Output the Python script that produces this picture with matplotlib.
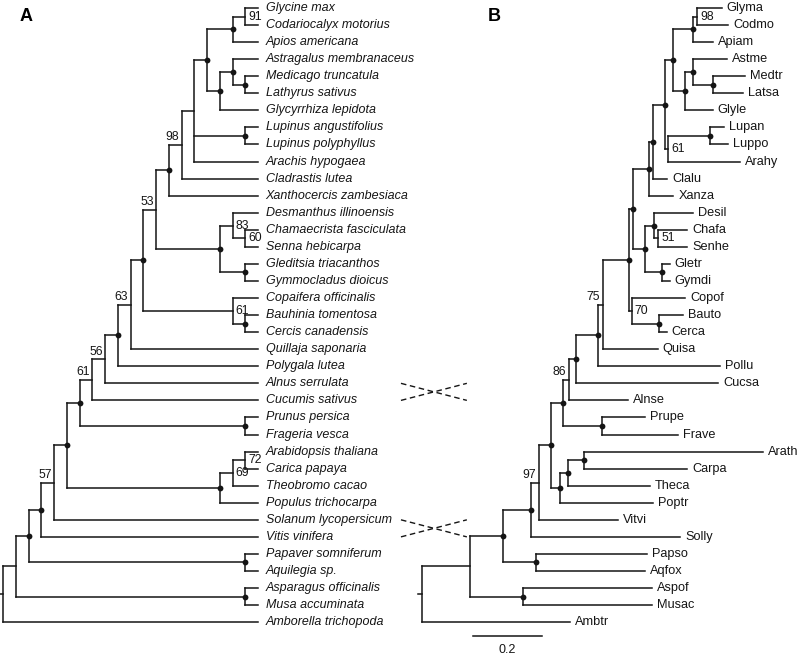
import matplotlib
matplotlib.use("Agg")
import matplotlib.pyplot as plt
from matplotlib.collections import LineCollection

###############################################################################
# data: panel A is a cladogram (topology + bootstrap), panel B a phylogram
# (branch lengths in substitutions/site + bootstrap). "100" = full support (dot)

TREE_A = (
    "(((((((((((((((((((Glycine_max,Codariocalyx_motorius)91,Apios_americana)100,"
    "((Astragalus_membranaceus,(Medicago_truncatula,Lathyrus_sativus)100)100,Glycyrrhiza_lepidota)100)100,"
    "(Lupinus_angustifolius,Lupinus_polyphyllus)100,Arachis_hypogaea),Cladrastis_lutea)98,"
    "Xanthocercis_zambesiaca)100,"
    "((Desmanthus_illinoensis,(Chamaecrista_fasciculata,Senna_hebicarpa)60)83,"
    "(Gleditsia_triacanthos,Gymmocladus_dioicus)100)100)53,"
    "(Copaifera_officinalis,(Bauhinia_tomentosa,Cercis_canadensis)100)61)100,"
    "Quillaja_saponaria)63,Polygala_lutea)100,Alnus_serrulata)56,Cucumis_sativus)61,"
    "(Prunus_persica,Frageria_vesca)100)100,"
    "(((Arabidopsis_thaliana,Carica_papaya)72,Theobromo_cacao)69,Populus_trichocarpa)100)100,"
    "Solanum_lycopersicum)57,Vitis_vinifera)100,"
    "(Papaver_somniferum,Aquilegia_sp.)100)100,"
    "(Asparagus_officinalis,Musa_accuminata)100),"
    "Amborella_trichopoda);"
)

TREE_B = (
    "(((((((((((((((((((Glyma:0.072,Codmo:0.090)98:0.012,Apiam:0.058)100:0.058,"
    "((Astme:0.099,(Medtr:0.093,Latsa:0.087)100:0.058)100:0.023,Glyle:0.081)100:0.035)100:0.023,"
    "((Lupan:0.041,Luppo:0.052)100:0.122,Arahy:0.209)61:0.009)100:0.035,"
    "Clalu:0.041)100:0.012,Xanza:0.072)100:0.046,"
    "((Desil:0.113,(Chafa:0.084,Senhe:0.084)51:0.012)100:0.026,"
    "(Gletr:0.023,Gymdi:0.023)100:0.049)100:0.035)100:0.012,"
    "(Copof:0.154,(Bauto:0.070,Cerca:0.023)100:0.078)70:0.009)100:0.075,"
    "Quisa:0.159)75:0.014,Pollu:0.354)100:0.064,Cucsa:0.412)100:0.020,Alnse:0.171)86:0.017,"
    "(Prupe:0.125,Frave:0.220)100:0.113)100:0.035,"
    "(((Arath:0.519,Carpa:0.299)100:0.046,Theca:0.238)100:0.023,Poptr:0.270)100:0.026)100:0.035,"
    "Vitvi:0.229)97:0.023,Solly:0.432)100:0.081,"
    "(Papso:0.322,Aqfox:0.316)100:0.096)100:0.096,"
    "(Aspof:0.374,Musac:0.374)100:0.154):0.139,"
    "Ambtr:0.429);"
)

# leaf rows whose order differs between the two trees
CROSSED_ROWS = [(22, 23), (30, 31)]
SCALE_LEN = 0.2

INK = "#151515"
LW = 1.1
FONT = "Liberation Sans"

###############################################################################

def parse_newick(text):
    pos = 0
    def read_node():
        nonlocal pos
        node = {"kids": [], "name": "", "len": 0.0}
        if text[pos] == "(":
            pos += 1
            node["kids"].append(read_node())
            while text[pos] == ",":
                pos += 1
                node["kids"].append(read_node())
            pos += 1
        start = pos
        while text[pos] not in ",():;":
            pos += 1
        node["name"] = text[start:pos]
        if text[pos] == ":":
            pos += 1
            start = pos
            while text[pos] not in ",();":
                pos += 1
            node["len"] = float(text[start:pos])
        return node
    return read_node()

###############################################################################

def layout(root):
    nodes = []
    def walk(node, depth):
        node["depth"] = depth + node["len"]
        nodes.append(node)
        if not node["kids"]:
            node["y"] = sum(1 for n in nodes if not n["kids"]) - 1
            node["height"] = 0
            node["nleaf"] = 1
            return
        for kid in node["kids"]:
            walk(kid, node["depth"])
        node["y"] = (node["kids"][0]["y"] + node["kids"][-1]["y"]) / 2.0
        node["height"] = 1 + max(k["height"] for k in node["kids"])
        node["nleaf"] = sum(k["nleaf"] for k in node["kids"])
    walk(root, 0.0)
    return nodes

###############################################################################

def draw_tree(ax, root, xkey, stub, tip_gap, italic, tip_size):
    nodes = layout(root)
    segs = []
    for node in nodes:
        if not node["kids"]:
            continue
        x = node[xkey]
        segs.append([(x, node["kids"][0]["y"]), (x, node["kids"][-1]["y"])])
        for kid in node["kids"]:
            segs.append([(x, kid["y"]), (kid[xkey], kid["y"])])
    segs.append([(root[xkey] + stub, root["y"]), (root[xkey], root["y"])])
    ax.add_collection(LineCollection(segs, colors=INK, linewidths=LW, capstyle="projecting"))

    dots_x, dots_y = [], []
    for node in nodes:
        x, y = node[xkey], node["y"]
        if not node["kids"]:
            ax.annotate(node["name"].replace("_", " "), (x, y), xytext=(tip_gap, 0),
                        textcoords="offset points", ha="left", va="center",
                        fontsize=tip_size, family=FONT,
                        style="italic" if italic else "normal", color=INK)
        elif node["name"] == "100":
            dots_x.append(x)
            dots_y.append(y)
        elif node["name"]:
            if node["nleaf"] <= 3:
                ax.annotate(node["name"], (x, y), xytext=(2.2, 0), textcoords="offset points",
                            ha="left", va="center", fontsize=8.8, family=FONT, color=INK)
            else:
                ax.annotate(node["name"], (x, y), xytext=(-1.8, 5.4), textcoords="offset points",
                            ha="right", va="center", fontsize=8.8, family=FONT, color=INK)
    ax.plot(dots_x, dots_y, "o", ms=4.2, color=INK, mec="none", zorder=3)
    return nodes

###############################################################################

def main():
    fig = plt.figure(figsize=(8, 6.58), dpi=100)
    ylim = (38.10, -0.47)

    axA = fig.add_axes([0, 0, 0.5, 1])
    axA.set_xlim(20.24, -11.14)
    axA.set_ylim(*ylim)
    axA.axis("off")
    draw_tree(axA, parse_newick(TREE_A), "height", 0.24, 5.5, True, 9.0)

    axB = fig.add_axes([0.5, 0, 0.5, 1])
    axB.set_xlim(-0.0638, 1.0957)
    axB.set_ylim(*ylim)
    axB.axis("off")
    nodesB = draw_tree(axB, parse_newick(TREE_B), "depth", -0.012, 3.6, False, 9.2)

    # dashed crosses linking rows that swap between the trees
    for top, bot in CROSSED_ROWS:
        for y0, y1 in ((top, bot), (bot, top)):
            axB.plot([-0.061, 0.130], [y0, y1], color=INK, lw=1.0,
                     dashes=(4, 2.6), clip_on=False)

    # scale bar
    nleaf = sum(1 for n in nodesB if not n["kids"])
    ybar = nleaf - 1 + 0.81
    axB.plot([0.148, 0.148 + SCALE_LEN], [ybar, ybar], color=INK, lw=LW)
    axB.annotate(str(SCALE_LEN), (0.148 + SCALE_LEN / 2, ybar), xytext=(0, -10),
                 textcoords="offset points", ha="center", va="center",
                 fontsize=9.0, family=FONT, color=INK)

    fig.text(0.032, 0.975, "A", fontsize=13, fontweight="bold", family=FONT,
             ha="center", va="center")
    fig.text(0.6175, 0.975, "B", fontsize=13, fontweight="bold", family=FONT,
             ha="center", va="center")

    fig.savefig("out.png", dpi=100)

if __name__ == "__main__":
    main()
